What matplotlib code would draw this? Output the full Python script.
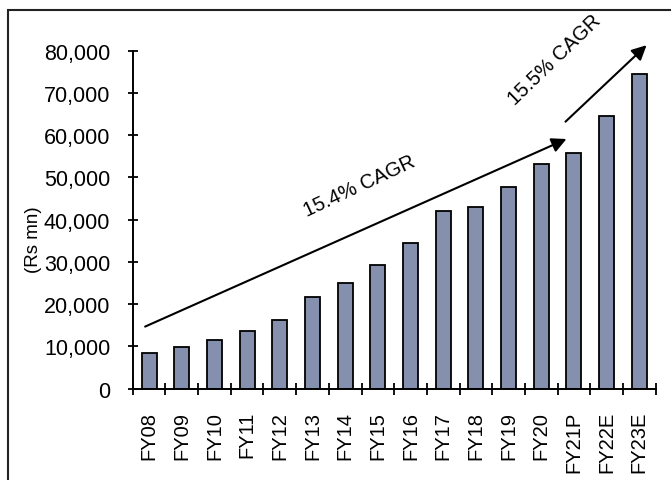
import numpy as np
import matplotlib.pyplot as plt
from matplotlib.patches import Rectangle

plt.rcParams['font.family'] = ['Liberation Sans', 'DejaVu Sans']

years = ['FY08', 'FY09', 'FY10', 'FY11', 'FY12', 'FY13', 'FY14', 'FY15',
         'FY16', 'FY17', 'FY18', 'FY19', 'FY20', 'FY21P', 'FY22E', 'FY23E']
revenue = [8500, 9900, 11500, 13700, 16200, 21800, 25100, 29300,
           34500, 42000, 42900, 47700, 53300, 55700, 64500, 74500]

# CAGR arrows (start, end) in data coordinates and their labels
arrow_hist = ((-0.12, 14700), (12.77, 59100))
arrow_fcst = ((12.74, 63200), (15.22, 81300))
label_hist = (6.45, 48200, '15.4% CAGR', 25)
label_fcst = (12.41, 78000, '15.5% CAGR', 44)

fig = plt.figure(figsize=(6.71, 4.81), dpi=100)
ax = fig.add_axes([132.7 / 671, 1 - 389.7 / 481, 523 / 671, 338 / 481])

x = np.arange(len(years))
ax.bar(x, revenue, width=0.46, color='#8490ad', edgecolor='black', linewidth=1.3)

ax.set_xlim(-0.5, len(years) - 0.5)
ax.set_ylim(0, 80000)
ax.set_yticks(np.arange(0, 80001, 10000))
ax.set_yticklabels([f'{v:,}' for v in range(0, 80001, 10000)], fontsize=15.5)

# ticks sit between the bars, labels at the bar centres
ax.set_xticks(np.arange(-0.5, len(years), 1))
ax.set_xticklabels([])
ax.set_xticks(x, minor=True)
ax.set_xticklabels(years, minor=True, rotation=90, fontsize=14.5)
ax.tick_params(axis='x', which='major', direction='inout', length=8.6, width=1.3)
ax.tick_params(axis='x', which='minor', length=0, pad=15.8)
ax.tick_params(axis='y', direction='inout', length=7.2, width=1.3, pad=12.5)

for side in ['top', 'right']:
    ax.spines[side].set_visible(False)
for side in ['left', 'bottom']:
    ax.spines[side].set_linewidth(1.4)

for (x0, y0), (x1, y1) in [arrow_hist, arrow_fcst]:
    ax.annotate('', xy=(x1, y1), xytext=(x0, y0), annotation_clip=False,
                arrowprops=dict(arrowstyle='-|>', color='black', lw=1.5,
                                mutation_scale=22, shrinkA=0, shrinkB=0))

for tx, ty, txt, rot in [label_hist, label_fcst]:
    ax.text(tx, ty, txt, rotation=rot, rotation_mode='anchor', ha='center',
            va='center', fontsize=14.5)

fig.text(33 / 671, 1 - 240 / 481, '(Rs mn)', rotation=90, ha='center',
         va='center', fontsize=13.5)

# outer frame around the exhibit
fig.add_artist(Rectangle((7.5 / 671, -0.05), 1.0, 1 - 11 / 481 + 0.05,
                         transform=fig.transFigure, fill=False,
                         edgecolor='#222222', linewidth=1.5))

fig.savefig('out.png', dpi=100)
